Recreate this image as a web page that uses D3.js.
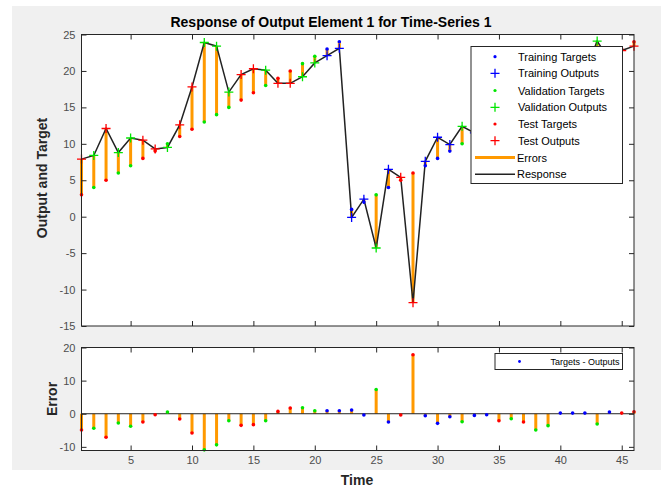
<!DOCTYPE html>
<html>
<head>
<meta charset="utf-8">
<script src="https://cdn.jsdelivr.net/npm/d3@7"></script>
<style>
  body { margin: 0; background: #fff; }
  svg { display: block; font-family: "Liberation Sans", Arial, sans-serif; }
  .tick line { stroke: #262626; }
  .tick text { fill: #4d4d4d; font-size: 11px; }
</style>
</head>
<body>
<svg id="svg" width="661" height="492"></svg>
<script>
/**
 * DATA
 */
var timeSteps = [1,2,3,4,5,6,7,8,9,10,11,12,13,14,15,16,17,18,19,20,21,22,23,
                 24,25,26,27,28,29,30,31,32,33,34,35,36,37,38,39,40,41,42,43,44,45,46];
var targets = [3,4,5,6,7,8,9,10,11,12,13,14,15,16,17,18,19,20,21,22,23,24,
               1,2,3,4,5,6,7,8,9,10,11,12,13,14,15,16,17,18,19,20,21,22,23,24];
var outputs = [7.9,8.4,12.1,8.8,10.8,10.5,9.3,9.5,12.6,17.8,23.9,23.4,17.1,19.5,20.3,20.1,
               18.3,18.3,19.2,21.1,22.1,23.1,-0.1,2.4,-4.3,6.5,5.4,-11.8,7.6,10.9,9.9,12.4,
               11.5,12.3,15.1,15.5,17.5,20.9,20.6,17.8,18.8,19.8,24.1,21.5,22.8,23.4];
// r = test, v = validation, t = training
var sets = ["r","v","r","v","v","r","r","v","r","r","v","v","v","r","r","v","r","r","v","v",
            "t","t","t","t","v","t","r","r","t","t","t","v","t","t","r","v","r","v","v",
            "t","t","t","v","t","r","r"];

var xTicks = [5,10,15,20,25,30,35,40,45];
var yTicksTop = [25,20,15,10,5,0,-5,-10,-15];
var yTicksErr = [20,10,0,-10];

var legendTop = ["Training Targets","Training Outputs","Validation Targets",
                 "Validation Outputs","Test Targets","Test Outputs","Errors","Response"];

var setColor = { t: "#0000ff", v: "#00e600", r: "#ff0000" };
var orange = "#ff9900";

var points = timeSteps.map(function(t, i) {
    return { t: t, target: targets[i], output: outputs[i], set: sets[i],
             err: targets[i] - outputs[i] };
});

// matlab style labels, plain hyphen for negatives
var plainFmt = function(d) { return String(d); };

/**
 * LAYOUT
 */
var svg = d3.select("#svg");
svg.append("rect").attr("x", 12).attr("y", 6).attr("width", 649).attr("height", 464)
    .attr("fill", "#f0f0f0");

var left = 81.5, right = 634;
var x = d3.scaleLinear().domain([1, 46]).range([left, right]);
var yTop = d3.scaleLinear().domain([-15, 25]).range([326, 34.5]);
var yErr = d3.scaleLinear().domain([-11.1, 20]).range([450.5, 347.5]);

function frame(y) {
    svg.append("rect")
        .attr("x", left).attr("y", y.range()[1])
        .attr("width", right - left).attr("height", y.range()[0] - y.range()[1])
        .attr("fill", "#fff");
}

function axes(y, yTicks, xLabels) {
    var y0 = y.range()[1], y1 = y.range()[0];
    var g;
    g = svg.append("g").attr("transform", "translate(" + left + ",0)")
        .call(d3.axisLeft(y).tickValues(yTicks).tickSize(-5).tickPadding(6).tickFormat(plainFmt));
    g.select(".domain").remove();
    g = svg.append("g").attr("transform", "translate(" + right + ",0)")
        .call(d3.axisRight(y).tickValues(yTicks).tickSize(-5).tickFormat(""));
    g.select(".domain").remove();
    g = svg.append("g").attr("transform", "translate(0," + y0 + ")")
        .call(d3.axisTop(x).tickValues(xTicks).tickSize(-5).tickFormat(""));
    g.select(".domain").remove();
    g = svg.append("g").attr("transform", "translate(0," + y1 + ")")
        .call(d3.axisBottom(x).tickValues(xTicks).tickSize(-5).tickPadding(6)
            .tickFormat(xLabels ? plainFmt : ""));
    g.select(".domain").remove();
    svg.append("rect")
        .attr("x", left).attr("y", y0)
        .attr("width", right - left).attr("height", y1 - y0)
        .attr("fill", "none").attr("stroke", "#262626").attr("stroke-width", 1);
}

function plus(g, cx, cy, color) {
    g.append("path")
        .attr("d", "M" + (cx - 4.5) + "," + cy + "H" + (cx + 4.5) +
                   "M" + cx + "," + (cy - 4.5) + "V" + (cy + 4.5))
        .attr("stroke", color).attr("stroke-width", 1.3).attr("fill", "none");
}

/* TOP PLOT */
frame(yTop);

var respG = svg.append("g");
respG.selectAll("line.err").data(points).enter().append("line")
    .attr("x1", function(d) { return x(d.t); })
    .attr("x2", function(d) { return x(d.t); })
    .attr("y1", function(d) { return yTop(d.target); })
    .attr("y2", function(d) { return yTop(d.output); })
    .attr("stroke", orange).attr("stroke-width", 3);

respG.append("path").datum(points)
    .attr("d", d3.line().x(function(d) { return x(d.t); })
                        .y(function(d) { return yTop(d.output); }))
    .attr("fill", "none").attr("stroke", "#222").attr("stroke-width", 1.5);

respG.selectAll("circle").data(points).enter().append("circle")
    .attr("cx", function(d) { return x(d.t); })
    .attr("cy", function(d) { return yTop(d.target); })
    .attr("r", 1.8)
    .attr("fill", function(d) { return setColor[d.set]; });

points.forEach(function(d) { plus(respG, x(d.t), yTop(d.output), setColor[d.set]); });

axes(yTop, yTicksTop, false);

// legend (top)
var lg = svg.append("g");
lg.append("rect").attr("x", 471).attr("y", 46.5).attr("width", 151.5).attr("height", 137)
    .attr("fill", "#fff").attr("stroke", "#262626").attr("stroke-width", 1);
var legendY = [56.7, 73.3, 90.5, 107.3, 124, 140.7, 157.5, 174.3];
var legendColor = ["t", "t", "v", "v", "r", "r"];
legendTop.forEach(function(name, i) {
    var ly = legendY[i];
    if (i < 6) {
        if (i % 2 === 0) {
            lg.append("circle").attr("cx", 495).attr("cy", ly).attr("r", 1.6)
                .attr("fill", setColor[legendColor[i]]);
        } else {
            plus(lg, 495, ly, setColor[legendColor[i]]);
        }
    } else {
        lg.append("line").attr("x1", 475).attr("x2", 515).attr("y1", ly).attr("y2", ly)
            .attr("stroke", i === 6 ? orange : "#222").attr("stroke-width", i === 6 ? 3 : 1.5);
    }
    lg.append("text").attr("x", i < 6 ? 518 : 517).attr("y", ly + 4)
        .attr("font-size", 11).attr("fill", "#000").text(name);
});

/* ERROR PLOT */
frame(yErr);

var errG = svg.append("g");
errG.selectAll("line.err").data(points).enter().append("line")
    .attr("x1", function(d) { return x(d.t); })
    .attr("x2", function(d) { return x(d.t); })
    .attr("y1", yErr(0))
    .attr("y2", function(d) { return yErr(d.err); })
    .attr("stroke", orange).attr("stroke-width", 3);

errG.append("line").attr("x1", left).attr("x2", right)
    .attr("y1", yErr(0)).attr("y2", yErr(0))
    .attr("stroke", "#222").attr("stroke-width", 1);

errG.selectAll("circle").data(points).enter().append("circle")
    .attr("cx", function(d) { return x(d.t); })
    .attr("cy", function(d) { return yErr(d.err); })
    .attr("r", 1.8)
    .attr("fill", function(d) { return setColor[d.set]; });

axes(yErr, yTicksErr, true);

// legend (bottom)
svg.append("rect").attr("x", 495).attr("y", 353.5).attr("width", 127.5).attr("height", 16)
    .attr("fill", "#fff").attr("stroke", "#262626").attr("stroke-width", 1);
svg.append("circle").attr("cx", 519.5).attr("cy", 361.5).attr("r", 1.4).attr("fill", "#0000ff");
svg.append("text").attr("x", 619.5).attr("y", 364.5).attr("text-anchor", "end")
    .attr("font-size", 9).attr("fill", "#000").text("Targets - Outputs");

/* TEXT */
svg.append("text").attr("x", 331).attr("y", 27).attr("text-anchor", "middle")
    .attr("font-size", 14).attr("font-weight", "bold").attr("fill", "#000")
    .text("Response of Output Element 1 for Time-Series 1");

svg.append("text").attr("transform", "translate(47,178) rotate(-90)")
    .attr("text-anchor", "middle")
    .attr("font-size", 14).attr("font-weight", "bold").attr("fill", "#262626")
    .text("Output and Target");

svg.append("text").attr("transform", "translate(57,399) rotate(-90)")
    .attr("text-anchor", "middle")
    .attr("font-size", 14).attr("font-weight", "bold").attr("fill", "#262626")
    .text("Error");

svg.append("text").attr("x", 357).attr("y", 485).attr("text-anchor", "middle")
    .attr("font-size", 14).attr("font-weight", "bold").attr("fill", "#262626")
    .text("Time");
</script>
</body>
</html>
